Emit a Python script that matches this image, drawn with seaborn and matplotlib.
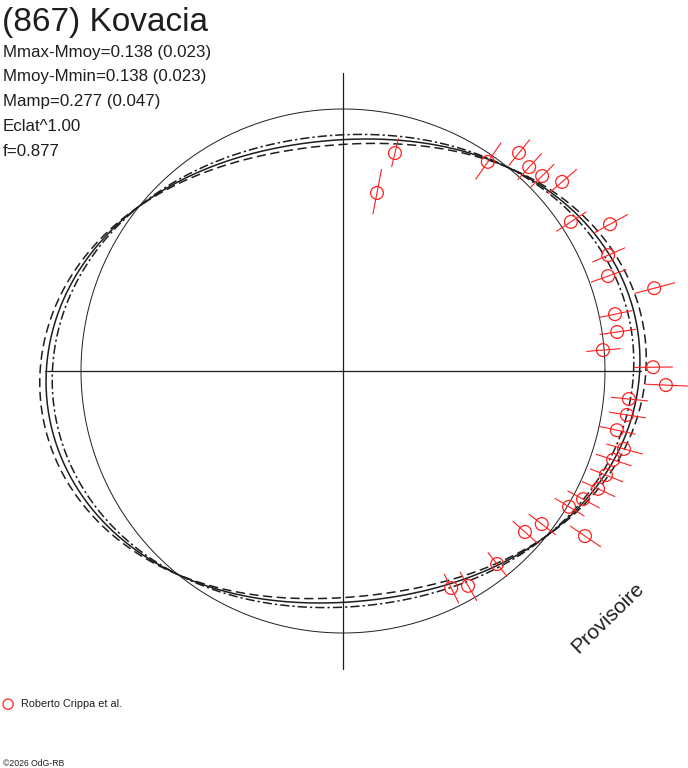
import numpy as np
import pandas as pd
import seaborn as sns
import matplotlib
matplotlib.use("Agg")
import matplotlib.pyplot as plt

# observations: angle on the polar diagram (deg), mag relative to mean, error (mag)
phase_deg = [79.2, 76.6, 55.3, 51.1, 47.6, 44.4, 40.8, 33.2, 28.8, 23.6, 19.7, 14.9,
             11.8, 8.1, 4.6, 0.7, -2.5, -5.6, -8.8, -12.2, -15.5, -18.2, -21.6, -24.8,
             -28.1, -31.0, -34.3, -37.6, -41.5, -51.4, -59.8, -63.5]
dmag = [0.400, 0.170, 0.032, -0.073, -0.057, -0.067, -0.108, -0.042, -0.164, -0.108,
        -0.078, -0.224, -0.064, -0.060, 0.005, -0.183, -0.228, -0.100, -0.100, -0.073,
        -0.116, -0.089, -0.083, -0.076, -0.041, -0.007, -0.121, 0.047, 0.082, 0.064,
        0.057, 0.084]
dmag_err = [0.135, 0.070, 0.094, 0.064, 0.069, 0.063, 0.069, 0.070, 0.069, 0.066,
            0.071, 0.069, 0.066, 0.070, 0.070, 0.066, 0.070, 0.069, 0.069, 0.070,
            0.069, 0.070, 0.067, 0.069, 0.071, 0.070, 0.068, 0.072, 0.074, 0.066,
            0.072, 0.072]

# fitted lightcurve parameters
half_amp = 0.138
half_amp_err = 0.023
phase0_deg = 6.0

title = "(867) Kovacia"
info_lines = ["Mmax-Mmoy=0.138 (0.023)", "Mmoy-Mmin=0.138 (0.023)",
              "Mamp=0.277 (0.047)", "Eclat^1.00", "f=0.877"]
observer = "Roberto Crippa et al."
credit = "\u00a92026 OdG-RB"

W, H = 688, 768
cx, cy = 343, 371      # centre of the diagram, pixels from top-left
scale = 262            # pixels for the mean-brightness circle

sns.set_theme(style="white")
plt.rcParams['font.family'] = ['Liberation Sans', 'DejaVu Sans']
ink = "#1e1e1e"


def mag_to_r(m):
    return 10 ** (-0.4 * np.asarray(m))


def curve(amp, n=721):
    t = np.linspace(0, 2 * np.pi, n)
    m = -amp * np.cos(2 * (t - np.radians(phase0_deg)))
    r = mag_to_r(m)
    return pd.DataFrame({"x": r * np.cos(t), "y": r * np.sin(t)})


fig = plt.figure(figsize=(W / 100, H / 100), dpi=100)
ax = fig.add_axes([0, 0, 1, 1])
ax.set_xlim(-cx / scale, (W - cx) / scale)
ax.set_ylim(-(H - cy) / scale, cy / scale)
ax.set_aspect("equal")
ax.axis("off")

# cross through the centre, as long as the maximum of the fit
arm = float(mag_to_r(-half_amp))
ax.plot([-arm, arm], [0, 0], color=ink, lw=0.9)
ax.plot([0, 0], [-arm, arm], color=ink, lw=0.9)

# mean circle
sns.lineplot(data=curve(0.0), x="x", y="y", sort=False, estimator=None,
             color=ink, lw=0.7, ax=ax)
# fit and its bounds
sns.lineplot(data=curve(half_amp), x="x", y="y", sort=False, estimator=None,
             color=ink, lw=1.1, ax=ax)
sns.lineplot(data=curve(half_amp + half_amp_err), x="x", y="y", sort=False,
             estimator=None, color=ink, lw=1.1, linestyle=(0, (6, 3)), ax=ax)
sns.lineplot(data=curve(half_amp - half_amp_err), x="x", y="y", sort=False,
             estimator=None, color=ink, lw=1.1, linestyle=(0, (6, 2, 1.5, 2)), ax=ax)

# observations with radial error bars
th = np.radians(phase_deg)
r_pt = mag_to_r(dmag)
r_lo = mag_to_r(np.array(dmag) + np.array(dmag_err))
r_hi = mag_to_r(np.array(dmag) - np.array(dmag_err))
seg = pd.DataFrame({
    "pt": np.repeat(np.arange(len(th)), 2),
    "x": np.ravel(np.column_stack([r_lo * np.cos(th), r_hi * np.cos(th)])),
    "y": np.ravel(np.column_stack([r_lo * np.sin(th), r_hi * np.sin(th)])),
})
sns.lineplot(data=seg, x="x", y="y", units="pt", estimator=None, sort=False,
             color="#ff2020", lw=0.8, ax=ax)
sns.scatterplot(x=r_pt * np.cos(th), y=r_pt * np.sin(th), marker="o", s=85,
                facecolors="none", edgecolor="#ff2020", linewidth=0.9,
                label=observer, ax=ax, zorder=3)

ax.legend(loc="center left", bbox_to_anchor=(-0.004, 1 - 704 / H), frameon=False,
          borderpad=0, borderaxespad=0, handletextpad=0.2, markerscale=0.8,
          fontsize=7.8, labelcolor=ink)

# texts
fig.text(2 / W, 1 - 31 / H, title, fontsize=24, color=ink, va="baseline")
for i, line in enumerate(info_lines):
    fig.text(3 / W, 1 - (56.5 + 24.8 * i) / H, line, fontsize=12.2, color=ink,
             va="baseline")
fig.text(608 / W, 1 - 618 / H, "Provisoire", fontsize=15, color=ink,
         rotation=44, ha="center", va="center")
fig.text(3 / W, 1 - 766 / H, credit, fontsize=6.2, color=ink, va="baseline")

fig.savefig("out.png", dpi=100)
